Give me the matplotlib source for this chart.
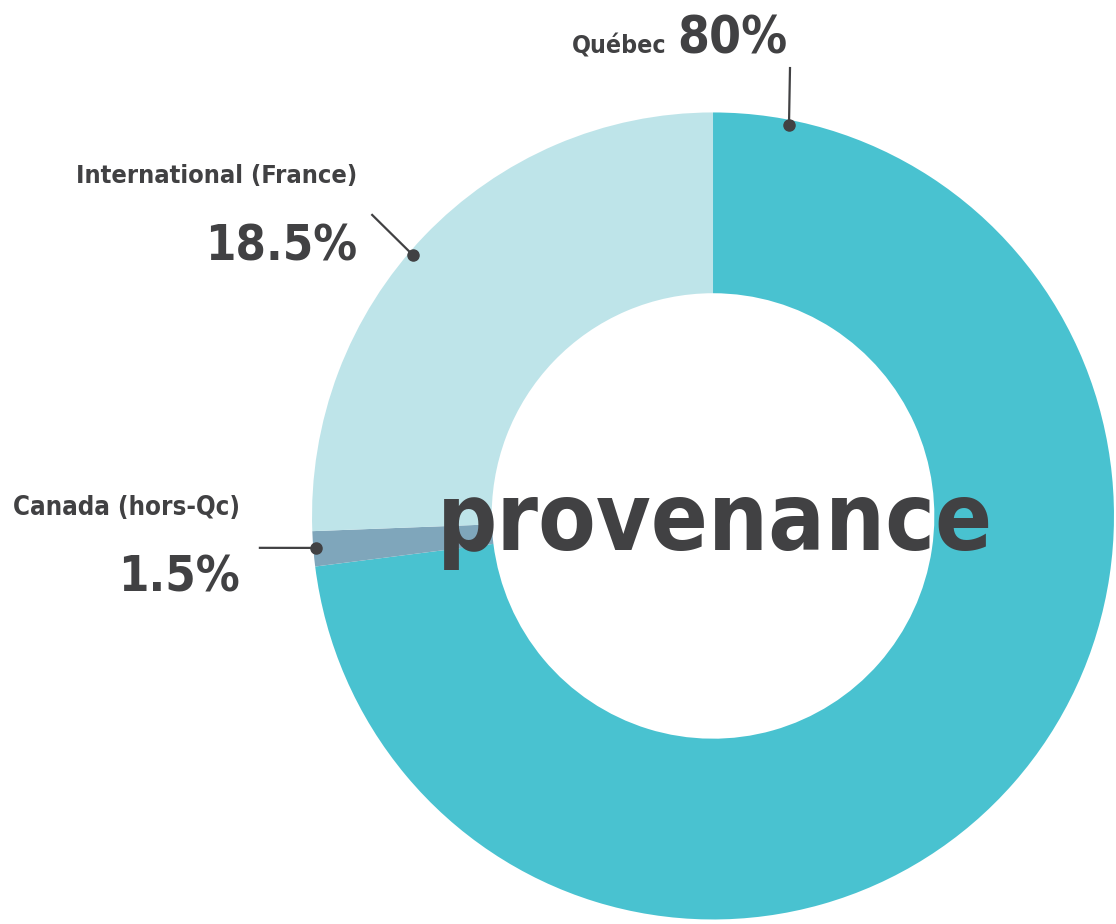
import matplotlib.pyplot as plt
import numpy as np

# provenance des participants
categories = ['Québec', 'Canada (hors-Qc)', 'International (France)']
label_pct = ['80%', '1.5%', '18.5%']
# parts telles que dessinées dans l'anneau
slice_shares = [73.0, 1.4, 25.6]
colors = ['#49c2d0', '#7fa6bb', '#bee4e9']
ink = '#414143'

plt.rcParams['font.family'] = ['DejaVu Sans']
plt.rcParams['font.stretch'] = 'condensed'
plt.rcParams['font.weight'] = 'bold'

fig = plt.figure(figsize=(11.16, 9.24), dpi=100)
ax = fig.add_axes([0.2796, 0.0049, 0.7186, 0.8734])

ax.pie(slice_shares, colors=colors, startangle=90, counterclock=False,
       radius=1, wedgeprops=dict(width=0.448, edgecolor='none'))
ax.set_aspect('auto')
ax.set_xlim(-1, 1)
ax.set_ylim(-1, 1)
ax.axis('off')

# leader lines: (angle on ring, line start)
leaders = [(79, (0.192, 1.110)), (184.6, (-1.130, -0.079)), (139, (-0.850, 0.746))]
for ang, (x0, y0) in leaders:
    x1 = 0.993 * np.cos(np.radians(ang))
    y1 = 0.987 * np.sin(np.radians(ang))
    ax.plot([x0, x1], [y0, y1], color=ink, lw=1.6, clip_on=False)
    ax.plot(x1, y1, 'o', color=ink, ms=8, clip_on=False)

texts = []  # (text, max width px)
t = ax.text(-0.115, 1.145, categories[0], ha='right', va='baseline', fontsize=22, color=ink)
texts.append((t, 94))
t = ax.text(-0.090, 1.145, label_pct[0], ha='left', va='baseline', fontsize=39, color=ink)
texts.append((t, 110))
t = ax.text(-0.888, 0.825, categories[2], ha='right', va='baseline', fontsize=20, color=ink)
texts.append((t, 282))
t = ax.text(-0.888, 0.632, label_pct[2], ha='right', va='baseline', fontsize=46, color=ink)
texts.append((t, 152))
t = ax.text(-1.180, 0.0025, categories[1], ha='right', va='baseline', fontsize=21, color=ink)
texts.append((t, 226))
t = ax.text(-1.180, -0.186, label_pct[1], ha='right', va='baseline', fontsize=45, color=ink)
texts.append((t, 122))
t = ax.text(0.005, -0.084, 'provenance', ha='center', va='baseline', fontsize=90, color=ink)
texts.append((t, 556))

# shrink texts that run wider than in the original layout
renderer = fig.canvas.get_renderer()
for t, w in texts:
    bw = t.get_window_extent(renderer).width
    if bw > w:
        t.set_fontsize(t.get_fontsize() * w / bw)

fig.savefig('out.png', dpi=100)
